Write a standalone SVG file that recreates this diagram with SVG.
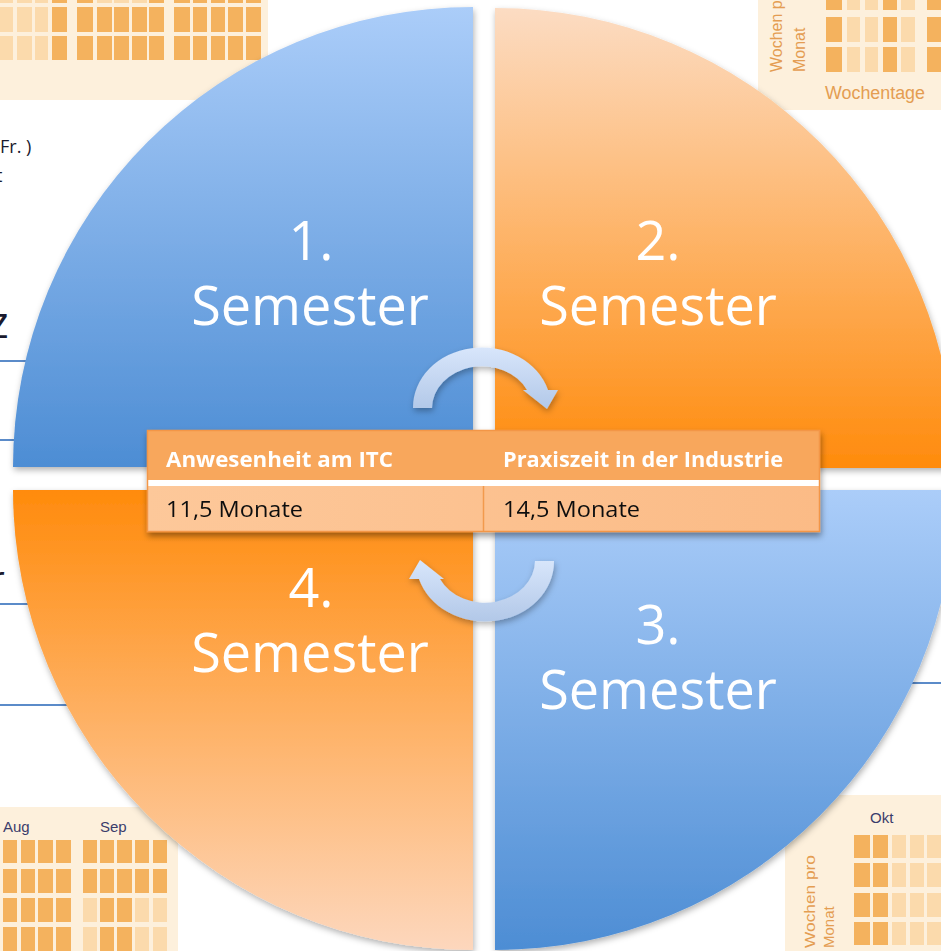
<svg xmlns="http://www.w3.org/2000/svg" width="941" height="951" viewBox="0 0 941 951">
<defs>
<style>
.cream{fill:#fdf0dc}
.co{fill:#f4b25e}
.cl{fill:#fbdaac}
.sem{font-family:"Open Sans","Liberation Sans",sans-serif;font-size:54px;fill:#ffffff;text-anchor:middle}
.th{font-family:"Open Sans","Liberation Sans",sans-serif;font-size:21px;font-weight:bold;fill:#ffffff}
.td{font-family:"Open Sans","Liberation Sans",sans-serif;font-size:21px;fill:#111111}
.bgt{font-family:"Open Sans","Liberation Sans",sans-serif;fill:#1a1a2e}
.ort{font-family:"Liberation Sans","Open Sans",sans-serif;fill:#e49d52}
.mon{font-family:"Liberation Sans","Open Sans",sans-serif;font-size:15px;fill:#3b3d6b}
.ln{stroke:#5b8bc9;stroke-width:2}
.arrow{fill:url(#gArrow);filter:url(#sh)}
</style>
<linearGradient id="gBlue" x1="0" y1="0" x2="0" y2="1">
<stop offset="0" stop-color="#abcdf9"/><stop offset="1" stop-color="#4d8dd4"/>
</linearGradient>
<linearGradient id="gOrUp" x1="0" y1="0" x2="0" y2="1">
<stop offset="0" stop-color="#fcdcc3"/><stop offset="1" stop-color="#ff8b0c"/>
</linearGradient>
<linearGradient id="gOrDown" x1="0" y1="0" x2="0" y2="1">
<stop offset="0" stop-color="#ff8b0c"/><stop offset="1" stop-color="#fdd7bd"/>
</linearGradient>
<linearGradient id="gArrow" x1="0" y1="0" x2="0" y2="1">
<stop offset="0" stop-color="#d8e6fb"/><stop offset="1" stop-color="#b2c8e8"/>
</linearGradient>
<linearGradient id="gRow" x1="0" y1="0" x2="1" y2="0">
<stop offset="0" stop-color="#fdc89a"/><stop offset="1" stop-color="#fbbb86"/>
</linearGradient>
<filter id="sh" x="-10%" y="-10%" width="120%" height="125%">
<feDropShadow dx="1" dy="3" stdDeviation="3" flood-color="#000" flood-opacity="0.3"/>
</filter>
<filter id="shT" x="-5%" y="-20%" width="110%" height="150%">
<feDropShadow dx="1" dy="4" stdDeviation="3" flood-color="#000" flood-opacity="0.4"/>
</filter>
</defs>
<rect width="941" height="951" fill="#ffffff"/>

<g id="background">
<rect class="cream" x="0" y="0" width="268" height="100"/>
<g>
<rect class="cl" x="0" y="0" width="13" height="3"/><rect class="cl" x="17" y="0" width="15" height="3"/><rect class="cl" x="35" y="0" width="13" height="3"/><rect class="co" x="52" y="0" width="15" height="3"/>
<rect class="co" x="77" y="0" width="16" height="3"/><rect class="cl" x="97" y="0" width="15" height="3"/><rect class="cl" x="114" y="0" width="15" height="3"/><rect class="cl" x="132" y="0" width="15" height="3"/><rect class="co" x="149" y="0" width="15" height="3"/>
<rect class="co" x="174" y="0" width="16" height="3"/><rect class="co" x="193" y="0" width="14" height="3"/><rect class="co" x="211" y="0" width="14" height="3"/><rect class="co" x="228" y="0" width="15" height="3"/><rect class="co" x="246" y="0" width="15" height="3"/>
<rect class="cl" x="0" y="7" width="13" height="25"/><rect class="cl" x="17" y="7" width="15" height="25"/><rect class="cl" x="35" y="7" width="13" height="25"/><rect class="co" x="52" y="7" width="15" height="25"/>
<rect class="co" x="77" y="7" width="16" height="25"/><rect class="co" x="97" y="7" width="15" height="25"/><rect class="co" x="114" y="7" width="15" height="25"/><rect class="co" x="132" y="7" width="15" height="25"/><rect class="co" x="149" y="7" width="15" height="25"/>
<rect class="co" x="174" y="7" width="16" height="25"/><rect class="co" x="193" y="7" width="14" height="25"/><rect class="co" x="211" y="7" width="14" height="25"/><rect class="co" x="228" y="7" width="15" height="25"/><rect class="co" x="246" y="7" width="15" height="25"/>
<rect class="cl" x="0" y="36" width="13" height="24"/><rect class="cl" x="17" y="36" width="15" height="24"/><rect class="cl" x="35" y="36" width="13" height="24"/><rect class="co" x="52" y="36" width="15" height="24"/>
<rect class="co" x="77" y="36" width="16" height="24"/><rect class="co" x="97" y="36" width="15" height="24"/><rect class="co" x="114" y="36" width="15" height="24"/><rect class="co" x="132" y="36" width="15" height="24"/><rect class="co" x="149" y="36" width="15" height="24"/>
<rect class="co" x="174" y="36" width="16" height="24"/><rect class="co" x="193" y="36" width="14" height="24"/><rect class="co" x="211" y="36" width="14" height="24"/><rect class="co" x="228" y="36" width="15" height="24"/><rect class="co" x="246" y="36" width="15" height="24"/>
</g>
<text class="bgt" x="0" y="153" font-size="18">Fr. )</text>
<text class="bgt" x="-4" y="182" font-size="18">t</text>
<text class="bgt" x="-12" y="338" font-size="44">z</text>
<text class="bgt" x="-10" y="592" font-size="36">r</text>
<line class="ln" x1="0" y1="361" x2="60" y2="361"/>
<line class="ln" x1="0" y1="440" x2="60" y2="440"/>
<line class="ln" x1="0" y1="604" x2="80" y2="604"/>
<line class="ln" x1="0" y1="705" x2="120" y2="705"/>
<line class="ln" x1="880" y1="683" x2="941" y2="683"/>

<rect class="cream" x="758" y="0" width="183" height="110"/>
<g>
<rect class="co" x="826" y="0" width="16" height="10"/><rect class="cl" x="847" y="0" width="13" height="10"/><rect class="cl" x="865" y="0" width="13" height="10"/><rect class="co" x="883" y="0" width="14" height="10"/><rect class="cl" x="901" y="0" width="14" height="10"/><rect class="co" x="927" y="0" width="14" height="10"/>
<rect class="co" x="826" y="17" width="16" height="25"/><rect class="cl" x="847" y="17" width="13" height="25"/><rect class="cl" x="865" y="17" width="13" height="25"/><rect class="co" x="883" y="17" width="14" height="25"/><rect class="cl" x="901" y="17" width="14" height="25"/><rect class="co" x="927" y="17" width="14" height="25"/>
<rect class="co" x="826" y="47" width="16" height="25"/><rect class="cl" x="847" y="47" width="13" height="25"/><rect class="cl" x="865" y="47" width="13" height="25"/><rect class="co" x="883" y="47" width="14" height="25"/><rect class="cl" x="901" y="47" width="14" height="25"/><rect class="co" x="927" y="47" width="14" height="25"/>
</g>
<text class="ort" font-size="16" transform="translate(782,72) rotate(-90)">Wochen pro</text>
<text class="ort" font-size="16" transform="translate(805,72) rotate(-90)">Monat</text>
<text class="ort" x="825" y="99" font-size="18" textLength="100" lengthAdjust="spacingAndGlyphs">Wochentage</text>

<rect class="cream" x="0" y="807" width="178" height="144"/>
<text class="mon" x="3" y="832">Aug</text>
<text class="mon" x="100" y="832">Sep</text>
<g>
<rect class="co" x="3" y="840" width="14" height="23"/><rect class="co" x="21" y="840" width="14" height="23"/><rect class="co" x="38" y="840" width="15" height="23"/><rect class="co" x="56" y="840" width="15" height="23"/>
<rect class="co" x="83" y="840" width="14" height="23"/><rect class="co" x="100" y="840" width="14" height="23"/><rect class="co" x="117" y="840" width="15" height="23"/><rect class="co" x="135" y="840" width="14" height="23"/><rect class="co" x="153" y="840" width="14" height="23"/>
<rect class="co" x="3" y="869" width="14" height="24"/><rect class="co" x="21" y="869" width="14" height="24"/><rect class="co" x="38" y="869" width="15" height="24"/><rect class="co" x="56" y="869" width="15" height="24"/>
<rect class="co" x="83" y="869" width="14" height="24"/><rect class="co" x="100" y="869" width="14" height="24"/><rect class="co" x="117" y="869" width="15" height="24"/><rect class="co" x="135" y="869" width="14" height="24"/><rect class="co" x="153" y="869" width="14" height="24"/>
<rect class="co" x="3" y="898" width="14" height="24"/><rect class="co" x="21" y="898" width="14" height="24"/><rect class="co" x="38" y="898" width="15" height="24"/><rect class="co" x="56" y="898" width="15" height="24"/>
<rect class="cl" x="83" y="898" width="14" height="24"/><rect class="co" x="100" y="898" width="14" height="24"/><rect class="co" x="117" y="898" width="15" height="24"/><rect class="cl" x="135" y="898" width="14" height="24"/><rect class="cl" x="153" y="898" width="14" height="24"/>
<rect class="co" x="3" y="927" width="14" height="24"/><rect class="co" x="21" y="927" width="14" height="24"/><rect class="co" x="38" y="927" width="15" height="24"/><rect class="co" x="56" y="927" width="15" height="24"/>
<rect class="cl" x="83" y="927" width="14" height="24"/><rect class="co" x="100" y="927" width="14" height="24"/><rect class="co" x="117" y="927" width="15" height="24"/><rect class="cl" x="135" y="927" width="14" height="24"/><rect class="cl" x="153" y="927" width="14" height="24"/>
</g>

<rect class="cream" x="785" y="795" width="156" height="156"/>
<text class="mon" x="870" y="823">Okt</text>
<g>
<rect class="co" x="854" y="835" width="16" height="23"/><rect class="co" x="873" y="835" width="15" height="23"/><rect class="cl" x="892" y="835" width="14" height="23"/><rect class="cl" x="910" y="835" width="14" height="23"/><rect class="cl" x="927" y="835" width="14" height="23"/>
<rect class="co" x="854" y="863" width="16" height="24"/><rect class="co" x="873" y="863" width="15" height="24"/><rect class="cl" x="892" y="863" width="14" height="24"/><rect class="cl" x="910" y="863" width="14" height="24"/><rect class="cl" x="927" y="863" width="14" height="24"/>
<rect class="co" x="854" y="893" width="16" height="24"/><rect class="co" x="873" y="893" width="15" height="24"/><rect class="cl" x="892" y="893" width="14" height="24"/><rect class="cl" x="910" y="893" width="14" height="24"/><rect class="cl" x="927" y="893" width="14" height="24"/>
<rect class="co" x="854" y="922" width="16" height="23"/><rect class="co" x="873" y="922" width="15" height="23"/><rect class="cl" x="892" y="922" width="14" height="23"/><rect class="cl" x="910" y="922" width="14" height="23"/><rect class="cl" x="927" y="922" width="14" height="23"/>
</g>
<text class="ort" font-size="15" transform="translate(815,948) rotate(-90)" textLength="93" lengthAdjust="spacingAndGlyphs">Wochen pro</text>
<text class="ort" font-size="15" transform="translate(834,948) rotate(-90)">Monat</text>
</g>

<g id="semester1" filter="url(#sh)">
<path d="M473,467 L13,467 A460,460 0 0 1 473,7 Z" fill="url(#gBlue)"/>
<text class="sem"><tspan x="311" y="260">1.</tspan><tspan x="310" y="325">Semester</tspan></text>
</g>
<g id="semester2" filter="url(#sh)">
<path d="M495,468 L495,8 A460,460 0 0 1 955,468 Z" fill="url(#gOrUp)"/>
<text class="sem"><tspan x="658" y="260">2.</tspan><tspan x="658" y="325">Semester</tspan></text>
</g>
<g id="semester3" filter="url(#sh)">
<path d="M495,490 L955,490 A460,460 0 0 1 495,950 Z" fill="url(#gBlue)"/>
<text class="sem"><tspan x="658" y="644">3.</tspan><tspan x="658" y="709">Semester</tspan></text>
</g>
<g id="semester4" filter="url(#sh)">
<path d="M473,490 L473,950 A460,460 0 0 1 13,490 Z" fill="url(#gOrDown)"/>
<text class="sem"><tspan x="311" y="607">4.</tspan><tspan x="310" y="672">Semester</tspan></text>
</g>

<g id="connectors">
<path class="arrow" d="M413,408 A69,60 0 0 1 548,390 L558,390 L547,409 L523,390 L527,390 A50,42 0 0 0 432,408 Z"/>
<path class="arrow" d="M554,561 A69,60 0 0 1 419,579 L409,579 L420,560 L444,579 L440,579 A50,42 0 0 0 535,561 Z"/>
</g>

<g id="table" filter="url(#shT)">
<rect x="147" y="430" width="673" height="102" fill="#ffffff"/>
<rect x="147" y="430" width="673" height="50" fill="#f8a75b"/>
<rect x="147" y="486" width="673" height="46" fill="url(#gRow)"/>
<line x1="483.5" y1="486" x2="483.5" y2="532" stroke="#f29a4e" stroke-width="1.5"/>
<rect x="147.5" y="430.5" width="672" height="101" fill="none" stroke="#f39647" stroke-width="1.5"/>
<text class="th" x="166" y="467" textLength="227" lengthAdjust="spacingAndGlyphs">Anwesenheit am ITC</text>
<text class="th" x="503" y="467" textLength="280" lengthAdjust="spacingAndGlyphs">Praxiszeit in der Industrie</text>
<text class="td" x="166" y="517" textLength="137" lengthAdjust="spacingAndGlyphs">11,5 Monate</text>
<text class="td" x="503" y="517" textLength="137" lengthAdjust="spacingAndGlyphs">14,5 Monate</text>
</g>
</svg>
